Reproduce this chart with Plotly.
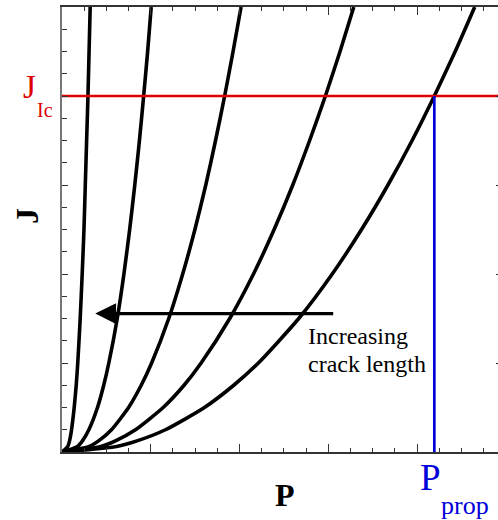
import plotly.graph_objects as go

J_LEVELS = [0, 0.25, 0.5, 1, 2, 3, 4, 6, 8, 10, 12, 14, 16, 18, 20]
P_CURVE_1 = [0, 0.26, 0.34, 0.43, 0.55, 0.64, 0.71, 0.82, 0.91, 0.99, 1.05, 1.11, 1.17, 1.22, 1.27]
P_CURVE_2 = [0, 0.70, 0.92, 1.21, 1.60, 1.88, 2.11, 2.49, 2.79, 3.05, 3.28, 3.49, 3.68, 3.86, 4.02]
P_CURVE_3 = [0, 1.23, 1.65, 2.23, 3.00, 3.57, 4.04, 4.81, 5.44, 5.99, 6.48, 6.92, 7.33, 7.71, 8.07]
P_CURVE_4 = [0, 1.75, 2.41, 3.31, 4.56, 5.50, 6.27, 7.56, 8.63, 9.56, 10.40, 11.16, 11.87, 12.53, 13.15]
P_CURVE_5 = [0, 2.46, 3.38, 4.66, 6.42, 7.74, 8.85, 10.67, 12.18, 13.50, 14.69, 15.78, 16.78, 17.72, 18.60]
CURVES = [P_CURVE_1, P_CURVE_2, P_CURVE_3, P_CURVE_4, P_CURVE_5]

J_IC = 16
P_PROP = 16.78
ARROW_J = 6.22
ARROW_FROM = 12.29
ARROW_TO = 1.5

X_MAX = 19.65
Y_MAX = 20

SERIF = "Liberation Serif, Times New Roman, serif"
RED = "#dd0000"
BLUE = "#0000d8"
AXIS = "#333333"

fig = go.Figure()

for p in CURVES:
    fig.add_trace(go.Scatter(
        x=p, y=J_LEVELS, mode="lines",
        line=dict(color="black", width=3.6, shape="spline", smoothing=0.6),
        showlegend=False, hoverinfo="skip",
    ))

# critical J line and propagation load
fig.add_trace(go.Scatter(
    x=[0, X_MAX], y=[J_IC, J_IC], mode="lines",
    line=dict(color=RED, width=2.7), showlegend=False, hoverinfo="skip",
))
fig.add_trace(go.Scatter(
    x=[P_PROP, P_PROP], y=[0, J_IC], mode="lines",
    line=dict(color=BLUE, width=2.7), showlegend=False, hoverinfo="skip",
))

# dummy trace to carry the right-hand tick axis
fig.add_trace(go.Scatter(
    x=[0], y=[0], yaxis="y2", mode="markers", marker=dict(opacity=0),
    showlegend=False, hoverinfo="skip",
))

fig.add_annotation(
    x=ARROW_TO, y=ARROW_J, ax=ARROW_FROM, ay=ARROW_J,
    xref="x", yref="y", axref="x", ayref="y",
    text="", showarrow=True, arrowhead=2, arrowsize=1.3,
    arrowwidth=3.2, arrowcolor="black",
)


def px_x(v):
    return (v - 62) / 436


def px_y(v):
    return (452 - v) / 445


texts = [
    dict(text="Increasing", x=px_x(306), y=px_y(351), size=24, color="black",
         xanchor="left", yanchor="bottom"),
    dict(text="crack length", x=px_x(306), y=px_y(379), size=24, color="black",
         xanchor="left", yanchor="bottom"),
    dict(text="J", x=px_x(38), y=px_y(107), size=33, color=RED,
         xanchor="right", yanchor="bottom"),
    dict(text="Ic", x=px_x(35), y=px_y(123), size=20, color=RED,
         xanchor="left", yanchor="bottom"),
    dict(text="P", x=px_x(430), y=px_y(500), size=37, color=BLUE,
         xanchor="center", yanchor="bottom"),
    dict(text="prop", x=px_x(439), y=px_y(522), size=26, color=BLUE,
         xanchor="left", yanchor="bottom"),
    dict(text="<b>P</b>", x=px_x(285), y=px_y(495), size=32, color="black",
         xanchor="center", yanchor="middle"),
]
for t in texts:
    fig.add_annotation(
        text=t["text"], x=t["x"], y=t["y"], xref="paper", yref="paper",
        xanchor=t["xanchor"], yanchor=t["yanchor"], showarrow=False,
        font=dict(family=SERIF, size=t["size"], color=t["color"]),
    )

fig.add_annotation(
    text="<b>J</b>", x=px_x(27), y=px_y(216), xref="paper", yref="paper",
    xanchor="center", yanchor="middle", textangle=-90, showarrow=False,
    font=dict(family=SERIF, size=32, color="black"),
)

fig.update_layout(
    width=498, height=520,
    margin=dict(l=62, r=0, t=7, b=68),
    paper_bgcolor="white", plot_bgcolor="white",
    font=dict(family=SERIF),
    xaxis=dict(
        range=[0, X_MAX], showgrid=False, zeroline=False,
        showline=True, linecolor=AXIS, linewidth=1.5, mirror="ticks",
        ticks="inside", dtick=4, tick0=0, ticklen=8, tickcolor=AXIS,
        showticklabels=False,
        minor=dict(dtick=1, ticks="inside", ticklen=4, tickcolor=AXIS),
    ),
    yaxis=dict(
        range=[0, Y_MAX], showgrid=False, zeroline=False,
        showline=True, linecolor="#777777", linewidth=1.5,
        ticks="inside", dtick=4, tick0=0, ticklen=6, tickcolor=AXIS,
        showticklabels=False,
        minor=dict(dtick=1, ticks="inside", ticklen=5, tickcolor=AXIS),
    ),
    yaxis2=dict(
        range=[0, Y_MAX], overlaying="y", side="right", showgrid=False,
        zeroline=False, showline=False, ticks="inside", dtick=4, tick0=0,
        ticklen=2, tickcolor=AXIS, showticklabels=False,
    ),
)

fig.write_html(
    "out.html",
    config={"displayModeBar": False},
    post_script="document.body.style.margin = '0';",
)
